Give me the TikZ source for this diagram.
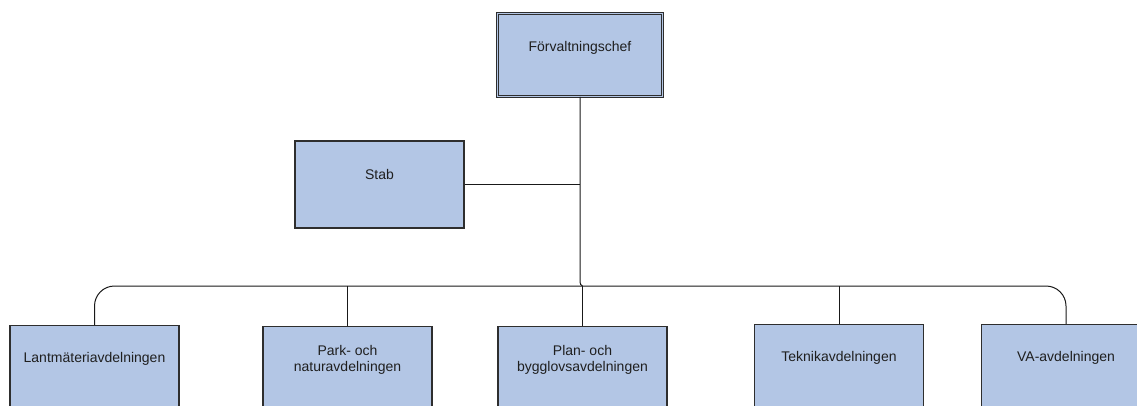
\documentclass[tikz,border=0pt]{standalone}
\usepackage{fontspec}
\setmainfont{Liberation Sans}
\definecolor{boxfill}{HTML}{B3C6E5}
\definecolor{boxline}{HTML}{2E2E2E}
\begin{document}
\begin{tikzpicture}[x=1pt,y=-1pt,
  box/.style={draw=boxline, line width=1.3pt, fill=boxfill, rectangle, minimum width=169pt, minimum height=87pt, inner sep=0pt},
  topbox/.style={draw=boxline, line width=0.9pt, double=boxfill, double distance=1.8pt, fill=boxfill, rectangle, minimum width=165pt, minimum height=83pt, inner sep=0pt},
  lbl/.style={font=\fontsize{14pt}{16pt}\selectfont, text=black!88, align=center, inner sep=0pt},
  conn/.style={draw=black!90, line width=1pt}]
\useasboundingbox (0,0) rectangle (1137,405);
\clip (0,0) rectangle (1137,405);
\node[topbox] (chef) at (580,55) {};
\node[box] (stab) at (379.5,184.5) {};
\node[box, anchor=north] (b1) at (94.5,325) {};
\node[box, anchor=north] (b2) at (347.5,326) {};
\node[box, anchor=north] (b3) at (582.5,326) {};
\node[box, anchor=north] (b4) at (839,324) {};
\node[box, anchor=north] (b5) at (1066,324) {};
\node[lbl] (tchef) at ([yshift=-35pt]chef.north) {Förvaltningschef};
\node[lbl] (tstab) at ([yshift=-34pt]stab.north) {Stab};
\node[lbl] (t1) at ([yshift=-34pt]b1.north) {Lantmäteriavdelningen};
\node[lbl] (t2) at ([yshift=-34pt]b2.north) {Park- och\\naturavdelningen};
\node[lbl] (t3) at ([yshift=-34pt]b3.north) {Plan- och\\bygglovsavdelningen};
\node[lbl] (t4) at ([yshift=-34pt]b4.north) {Teknikavdelningen};
\node[lbl] (t5) at ([yshift=-34pt]b5.north) {VA-avdelningen};
\coordinate (hub) at (582.5,286);
\coordinate (bend) at (580,280);
\draw[conn] (chef.south) -- (bend) .. controls (580,284) and (581,286) .. (hub);
\draw[conn] (stab.east) -- (stab.east -| chef.south);
\draw[conn, rounded corners=20pt] (b1.north) -- (b1.north |- hub) -- (b5.north |- hub) -- (b5.north);
\draw[conn] (b2.north) -- (b2.north |- hub);
\draw[conn] (b3.north) -- (hub);
\draw[conn] (b4.north) -- (b4.north |- hub);
\end{tikzpicture}
\end{document}
